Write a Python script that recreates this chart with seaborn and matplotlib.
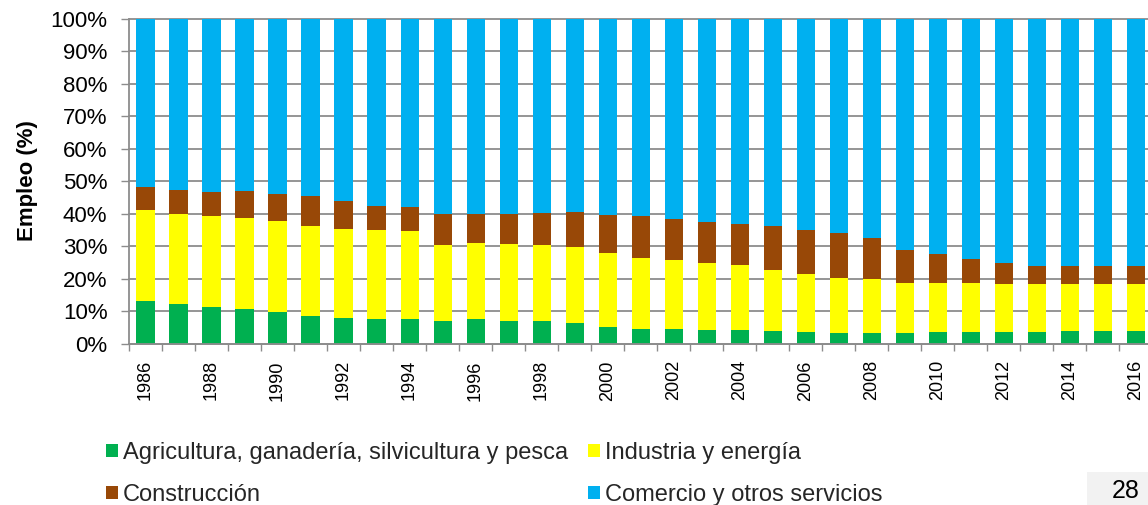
import numpy as np
import pandas as pd
import matplotlib
matplotlib.use("Agg")
import matplotlib.pyplot as plt
import seaborn as sns
from matplotlib.patches import Patch, Rectangle

# ---- data (shares of employment, %) ----
years = list(range(1986, 2017))
agricultura = [13.2, 12.2, 11.4, 10.6, 9.8, 8.5, 7.8, 7.7, 7.5, 6.9, 7.4, 6.9, 6.9, 6.4, 5.0,
               4.5, 4.4, 4.2, 4.1, 3.8, 3.4, 3.3, 3.3, 3.3, 3.5, 3.5, 3.5, 3.5, 3.8, 3.8, 3.8]
industria = [27.9, 27.8, 27.9, 28.1, 27.8, 27.8, 27.5, 27.2, 27.1, 23.5, 23.7, 23.7, 23.4, 23.2, 22.9,
             22.0, 21.4, 20.7, 20.1, 19.0, 18.1, 17.0, 16.6, 15.4, 15.2, 15.2, 14.9, 14.7, 14.5, 14.5, 14.5]
construccion = [7.0, 7.4, 7.4, 8.3, 8.4, 9.1, 8.6, 7.4, 7.5, 9.4, 8.9, 9.4, 9.9, 10.9, 11.7,
                12.8, 12.6, 12.6, 12.7, 13.5, 13.5, 13.9, 12.5, 10.2, 8.9, 7.4, 6.5, 5.8, 5.6, 5.6, 5.6]
servicios = [51.9, 52.6, 53.3, 53.0, 54.0, 54.6, 56.1, 57.7, 57.9, 60.2, 60.0, 60.0, 59.8, 59.5, 60.4,
             60.7, 61.6, 62.5, 63.1, 63.7, 65.0, 65.8, 67.6, 71.1, 72.4, 73.9, 75.1, 76.0, 76.1, 76.1, 76.1]
series_labels = ["Agricultura, ganadería, silvicultura y pesca", "Industria y energía",
                 "Construcción", "Comercio y otros servicios"]
y_ticks = [0, 10, 20, 30, 40, 50, 60, 70, 80, 90, 100]
y_label = "Empleo (%)"
page_number = "28"

colors = ["#00B050", "#FFFF00", "#984807", "#00B0F0"]

sns.set_theme(style="white")
plt.rcParams['font.family'] = ['Liberation Sans', 'DejaVu Sans']

W, H = 1148, 505
fig = plt.figure(figsize=(W / 100, H / 100), dpi=100)
ax = fig.add_axes([129 / W, 1 - 343.5 / H, 1023.3 / W, (343.5 - 19) / H])

df = pd.DataFrame({"year": [str(y) for y in years]})
a = np.array(agricultura)
i = np.array(industria)
c = np.array(construccion)
s = np.array(servicios)
df["c1"] = a
df["c2"] = a + i
df["c3"] = a + i + c
df["c4"] = a + i + c + s

for col, color in [("c4", colors[3]), ("c3", colors[2]), ("c2", colors[1]), ("c1", colors[0])]:
    sns.barplot(data=df, x="year", y=col, color=color, saturation=1, width=0.55,
                errorbar=None, linewidth=0, ax=ax)

grid_col = "#8C8C8C"
ax.set_xlim(-0.5, len(years) - 0.5)
ax.set_ylim(0, 100)
ax.set_yticks(y_ticks)
ax.set_yticklabels([f"{v}%" for v in y_ticks], fontsize=16, color="black")
ax.set_xticks(range(len(years)))
ax.set_xticklabels([str(y) if (y - years[0]) % 2 == 0 else "" for y in years],
                   rotation=90, fontsize=13, color="black")
ax.set_xticks(np.arange(-0.5, len(years), 1), minor=True)
ax.tick_params(axis="x", which="major", length=0, pad=12)
ax.tick_params(axis="x", which="minor", length=5, width=1, color=grid_col, bottom=True)
ax.tick_params(axis="y", which="major", length=5.5, width=1, color=grid_col, pad=10, left=True)
ax.set_xlabel("")
ax.set_ylabel("")

ax.set_axisbelow(True)
ax.yaxis.grid(True, color=grid_col, linewidth=1.3)
ax.xaxis.grid(False)
for gl in ax.get_ygridlines():
    gl.set_clip_on(False)
for side in ["top", "right"]:
    ax.spines[side].set_visible(False)
for side in ["left", "bottom"]:
    ax.spines[side].set_color(grid_col)
    ax.spines[side].set_linewidth(1.3)

fig.text(27 / W, 1 - 181 / H, y_label, rotation=90, ha="center", va="center",
         fontsize=16, fontweight="bold", color="black")

handles = [Patch(facecolor=col, edgecolor="none") for col in colors]
leg_kw = dict(frameon=False, fontsize=17, handlelength=0.5, handleheight=0.5,
              handletextpad=0.22, labelspacing=0.85, borderpad=0, borderaxespad=0,
              loc="upper left")
leg1 = fig.legend([handles[0], handles[2]], [series_labels[0], series_labels[2]],
                  bbox_to_anchor=(106 / W, 1 - 442 / H), **leg_kw)
leg2 = fig.legend([handles[1], handles[3]], [series_labels[1], series_labels[3]],
                  bbox_to_anchor=(588 / W, 1 - 442 / H), **leg_kw)

fig.patches.append(Rectangle((1087 / W, 0), 70 / W, 33 / H, transform=fig.transFigure,
                             facecolor="#F2F2F2", edgecolor="none", zorder=0))
fig.text(1112 / W, 2 / H, page_number, ha="left", va="bottom", fontsize=18, color="black")

fig.savefig("out.png", dpi=100)
